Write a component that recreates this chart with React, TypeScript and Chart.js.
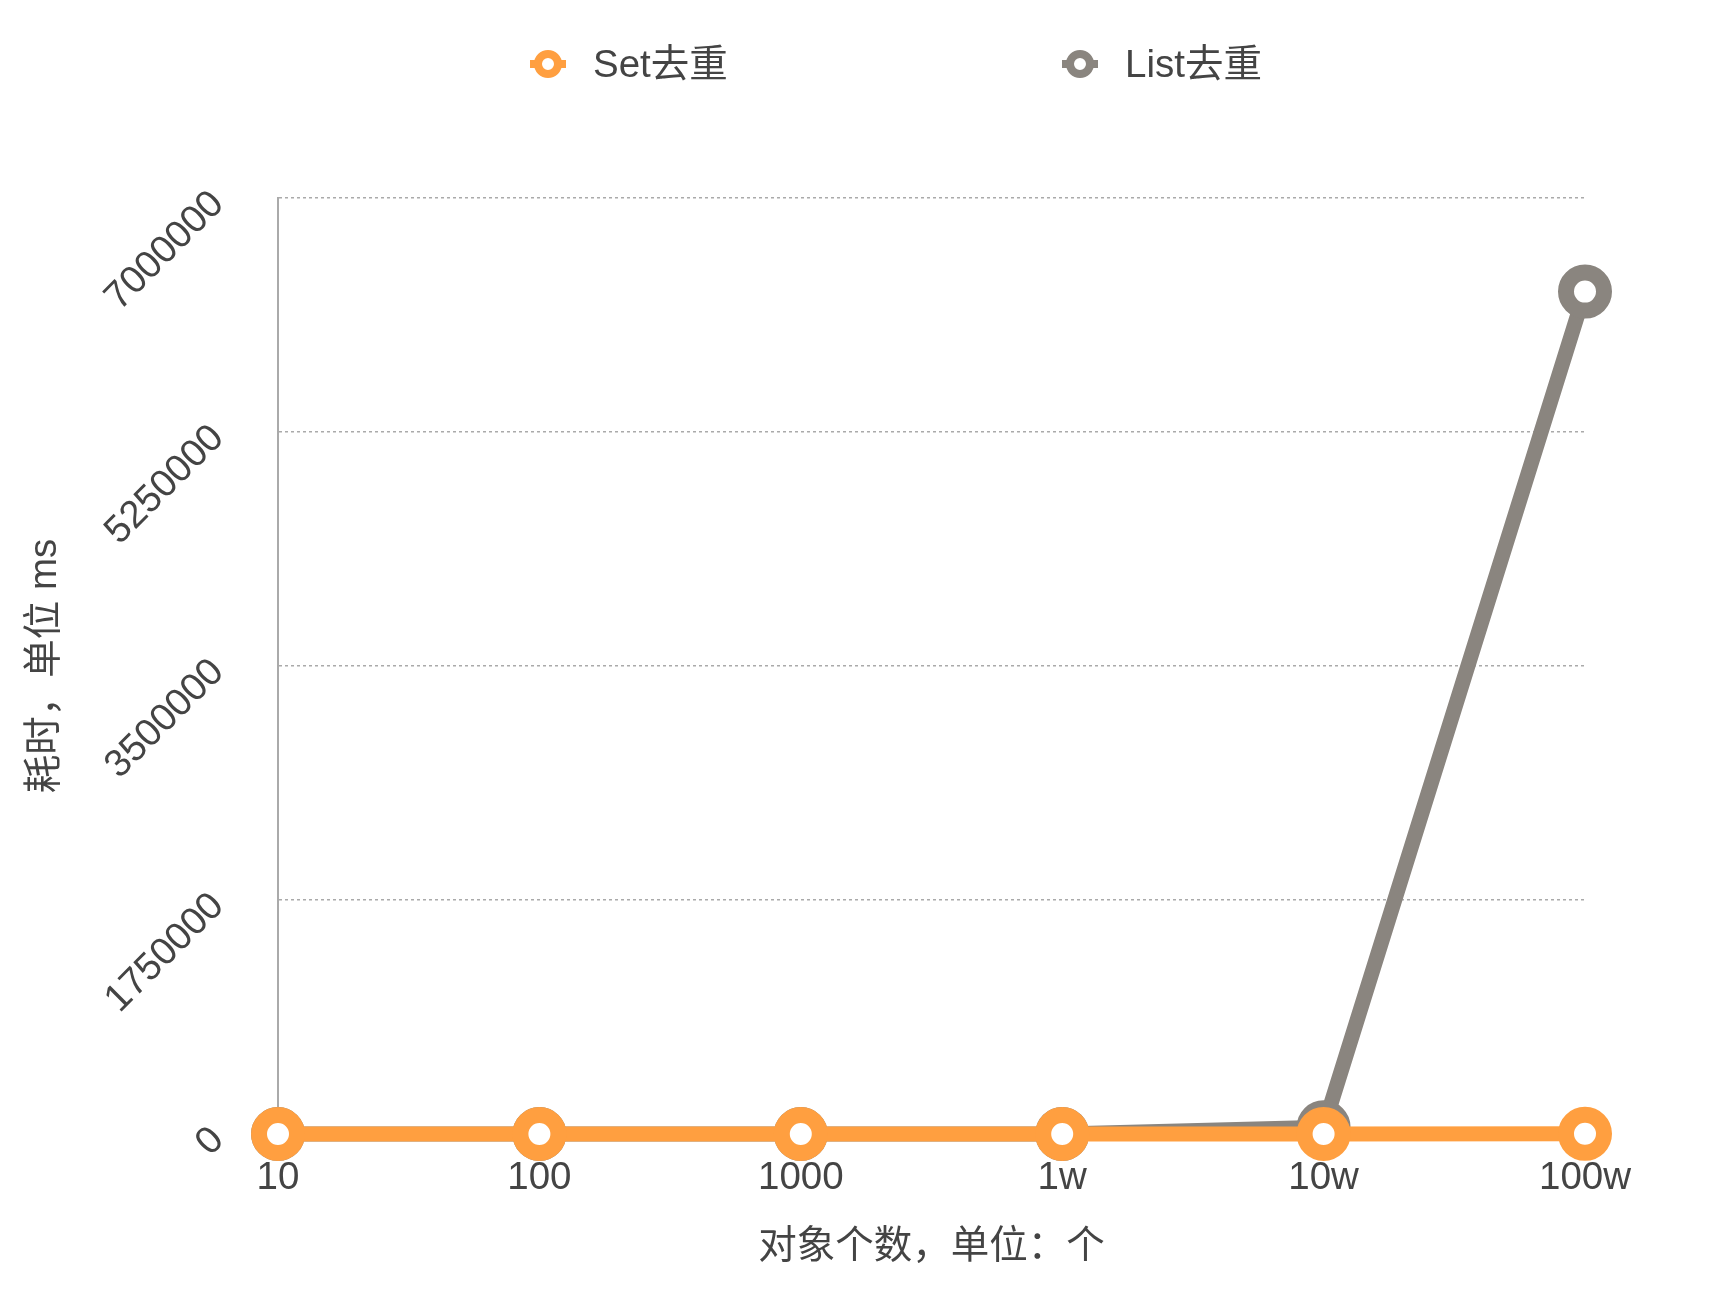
import React, { useEffect, useRef } from "react";
import { Chart, registerables } from "chart.js";

Chart.register(...registerables);

const categories = ["10", "100", "1000", "1w", "10w", "100w"];
const setValues = [1, 2, 5, 20, 150, 1500];
const listValues = [1, 5, 60, 600, 50000, 6300000];
const seriesNames = ["Set去重", "List去重"];
const seriesColors = ["#ff9f40", "#8a857f"];
const yTicks = [0, 1750000, 3500000, 5250000, 7000000];
const xTitle = "对象个数，单位：个";
const yTitle = "耗时，单位 ms";

const FONT = "'Liberation Sans', 'Noto Sans CJK SC', 'Noto Sans', sans-serif";
const TEXT = "#444444";
const FS = 38.5;

const legendPlugin = {
  id: "lineLegend",
  afterDraw(chart: any) {
    const ctx = chart.ctx;
    const centers = [540, 1072];
    const y = 56;
    chart.data.datasets.forEach((ds: any, i: number) => {
      const cx = centers[i];
      ctx.save();
      ctx.strokeStyle = ds.borderColor;
      ctx.lineWidth = 8;
      ctx.beginPath();
      ctx.moveTo(cx - 18, y);
      ctx.lineTo(cx + 18, y);
      ctx.stroke();
      ctx.beginPath();
      ctx.arc(cx, y, 10, 0, Math.PI * 2);
      ctx.fillStyle = "#ffffff";
      ctx.fill();
      ctx.stroke();
      ctx.fillStyle = TEXT;
      ctx.font = `${FS}px ${FONT}`;
      ctx.textBaseline = "middle";
      ctx.textAlign = "left";
      ctx.fillText(ds.label, cx + 45, y + 2);
      ctx.restore();
    });
  },
};

export default function App() {
  const ref = useRef<HTMLCanvasElement | null>(null);

  useEffect(() => {
    if (!ref.current) return;
    const makeDs = (label: string, data: number[], color: string) => ({
      label,
      data,
      borderColor: color,
      backgroundColor: color,
      borderWidth: 15,
      pointRadius: 19,
      pointHoverRadius: 19,
      pointBorderWidth: 16,
      pointBackgroundColor: "#ffffff",
      pointBorderColor: color,
      tension: 0,
      fill: false,
      clip: false,
    });
    const chart = new Chart(ref.current, {
      type: "line",
      data: {
        labels: categories,
        datasets: [
          makeDs(seriesNames[0], setValues, seriesColors[0]),
          makeDs(seriesNames[1], listValues, seriesColors[1]),
        ],
      },
      options: {
        animation: false,
        responsive: false,
        devicePixelRatio: 1,
        layout: { padding: { top: 190, right: 117, bottom: 21, left: 0 } },
        plugins: {
          legend: { display: false },
          tooltip: { enabled: false },
        },
        scales: {
          x: {
            offset: false,
            grid: { display: false, drawTicks: false },
            border: { display: false },
            ticks: {
              padding: 21,
              color: TEXT,
              font: { family: FONT, size: FS },
              maxRotation: 0,
              minRotation: 0,
            },
            title: {
              display: true,
              text: xTitle,
              color: TEXT,
              font: { family: FONT, size: FS },
              padding: { top: 0, bottom: 9 },
            },
            afterFit: (s: any) => {
              s.height = 145;
            },
          },
          y: {
            min: 0,
            max: 7000000,
            afterBuildTicks: (s: any) => {
              s.ticks = yTicks.map((v) => ({ value: v }));
            },
            grid: {
              color: "#aaaaaa",
              lineWidth: 1.5,
              drawTicks: false,
            },
            border: { display: true, color: "#aaaaaa", width: 2, dash: [3, 3] },
            ticks: {
              padding: 60,
              color: TEXT,
              font: { family: FONT, size: FS },
              minRotation: 45,
              maxRotation: 45,
              callback: (v: any) => String(v),
            },
            title: {
              display: true,
              text: yTitle,
              color: TEXT,
              font: { family: FONT, size: FS },
              padding: { top: 14, bottom: 0 },
            },
            afterFit: (s: any) => {
              s.width = 270;
            },
          },
        },
      },
      plugins: [legendPlugin],
    } as any);
    return () => chart.destroy();
  }, []);

  return (
    <div style={{ width: 1694, height: 1292 }}>
      <canvas ref={ref} width={1694} height={1292} style={{ display: "block" }} />
    </div>
  );
}
